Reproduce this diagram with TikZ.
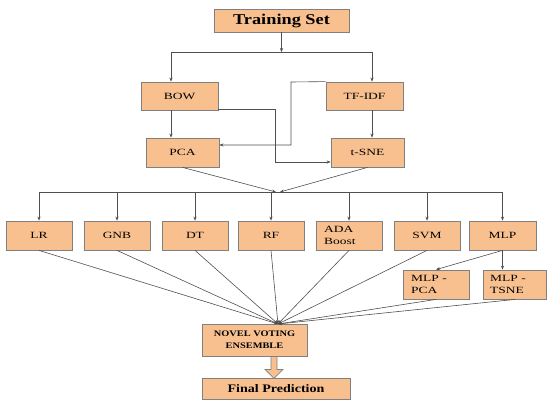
\documentclass[tikz,border=0pt]{standalone}
\usepackage{fontspec}
\setmainfont{Liberation Serif}[FakeStretch=1.22]
\newfontfamily\lblfont{Liberation Serif}[FakeStretch=1.42]
\usetikzlibrary{arrows.meta,calc}
\definecolor{boxfill}{RGB}{249,192,143}
\definecolor{boxline}{RGB}{128,128,128}
\definecolor{conn}{RGB}{80,80,80}
\begin{document}
\begin{tikzpicture}[x=1pt,y=-1pt,
  box/.style={draw=boxline,line width=0.8pt,fill=boxfill,inner sep=0pt,align=center,
     font=\lblfont\fontsize{9.5}{11}\selectfont},
  lbl/.style={font=\lblfont\fontsize{9.5}{12.5}\selectfont,align=left,inner sep=0pt,anchor=west},
  conline/.style={draw=conn,line width=0.6pt},
  arr/.style={conline,-{Stealth[length=4pt,width=3.2pt]}}]
\useasboundingbox (0,0) rectangle (547,410);
\fill[white] (0,0) rectangle (547,410);
% nodes
\node[box,minimum width=135pt,minimum height=23pt,font=\fontsize{15}{16}\selectfont\bfseries] (train) at (281.5,20.5) {Training Set};
\node[box,minimum width=77pt,minimum height=28pt] (bow) at (179.5,96) {BOW};
\node[box,minimum width=77pt,minimum height=28pt] (tfidf) at (364.5,96) {TF-IDF};
\node[box,minimum width=73pt,minimum height=29pt] (pca) at (182.5,152.5) {PCA};
\node[box,minimum width=73pt,minimum height=29pt] (tsne) at (367.5,152.5) {t-SNE};
\node[box,minimum width=66pt,minimum height=29pt] (lr) at (39,235.5) {LR};
\node[box,minimum width=66pt,minimum height=29pt] (gnb) at (117,235.5) {GNB};
\node[box,minimum width=66pt,minimum height=29pt] (dt) at (195,235.5) {DT};
\node[box,minimum width=66pt,minimum height=29pt] (rf) at (271,235.5) {RF};
\node[box,minimum width=66pt,minimum height=29pt] (ada) at (349,235.5) {};
\node[lbl] (adat) at (324,235.5) {ADA\\Boost};
\node[box,minimum width=66pt,minimum height=29pt] (svm) at (427,235.5) {SVM};
\node[box,minimum width=67pt,minimum height=29pt] (mlp) at (502.5,235.5) {MLP};
\node[box,minimum width=66pt,minimum height=29pt] (mlppca) at (436,284.5) {};
\node[lbl] (mlppcat) at (411,284.5) {MLP -\\PCA};
\node[box,minimum width=63pt,minimum height=29pt] (mlptsne) at (515,284.5) {};
\node[lbl] (mlptsnet) at (490,284.5) {MLP -\\TSNE};
\node[box,minimum width=105pt,minimum height=32pt,font=\fontsize{8.5}{12}\selectfont\bfseries] (novel) at (254.5,340) {NOVEL VOTING\\ENSEMBLE};
\node[box,minimum width=148pt,minimum height=21pt,font=\fontsize{11.5}{13}\selectfont\bfseries] (final) at (276,388.5) {Final Prediction};
% coordinates
\coordinate (tl) at (171,52);
\coordinate (tr) at (372,52);
\coordinate (bowr) at (218,109);
\coordinate (bowc) at (275,109);
\coordinate (bowd) at (275,162);
\coordinate (tfc) at (291,82);
\coordinate (tfd) at (291,145);
\coordinate (hub) at (278,192);
\coordinate (hubl) at (39,192);
\coordinate (hubr) at (502.5,192);
\coordinate (conv) at (278,324);
% connectors
\draw[arr] (train.south) -- (train.south |- tl);
\draw[conline] (tl) -- (tr);
\draw[arr] (tl) -- (tl |- bow.north);
\draw[arr] (tr) -- (tr |- tfidf.north);
\draw[arr] (tl |- bow.south) -- (tl |- pca.north);
\draw[arr] (tr |- tfidf.south) -- (tr |- tsne.north);
\draw[arr] (bowr) -- (bowc) -- (bowd) -- (bowd -| tsne.west);
\draw[arr] (tfidf.north west) -- (tfc) -- (tfd) -- (tfd -| pca.east);
\draw[arr] (pca.south) -- ($(hub)+(-2,0)$);
\draw[arr] (tsne.south) -- ($(hub)+(2,0)$);
\draw[conline] (hubl) -- (hubr);
\foreach \n in {lr,gnb,dt,rf,ada,svm,mlp}{
  \draw[arr] (hubl -| \n.north) -- (\n.north);
}
\draw[arr] (mlp.south) -- (mlppca.north);
\draw[arr] (mlp.south) -- (mlp.south |- mlptsne.north);
\foreach \n in {lr,gnb,dt,rf,ada,svm,mlppca,mlptsne}{
  \draw[arr] (\n.south) -- (conv);
}
% block arrow
\draw[boxline,line width=0.8pt,fill=boxfill]
  ($(novel.south -| conv)+(-7,0)$) -- ++(6,0) -- ++(0,13) -- ++(6,0) -- ++(-9,9) -- ++(-9,-9) -- ++(6,0) -- cycle;
\end{tikzpicture}
\end{document}
